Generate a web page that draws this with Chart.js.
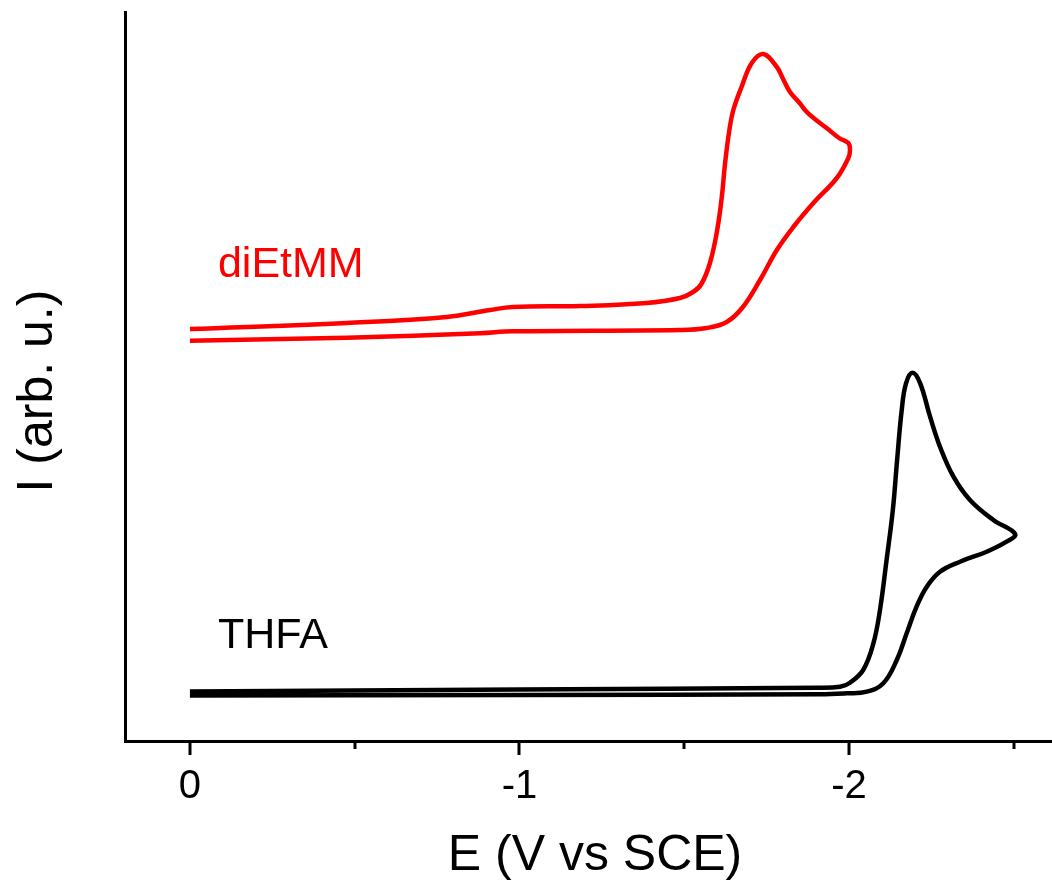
<!DOCTYPE html>
<html>
<head>
<meta charset="utf-8">
<script src="https://cdn.jsdelivr.net/npm/chart.js@4"></script>
<style>
  html, body { margin: 0; padding: 0; background: #fff; }
  canvas { display: block; }
</style>
</head>
<body>
<canvas id="cv" width="1052" height="889"></canvas>
<script>
// === Dados ===
// diEtMM: varredura de 0 até -2.0 V e volta
const redE = [0, -0.476, -0.78, -0.911, -0.98, -1.184, -1.386, -1.487, -1.527, -1.552, -1.578, -1.6, -1.614, -1.624, -1.637, -1.649, -1.674, -1.705, -1.74, -1.781, -1.80, -1.821, -1.85, -1.872, -1.90, -1.932, -1.97, -1.998, -2.003,
  -1.998, -1.963, -1.892, -1.831, -1.781, -1.73, -1.678, -1.629, -1.568, -1.487, -0.98, -0.88, -0.476, 0];
const redI = [412, 418, 424, 431, 434, 435, 438, 443, 449, 457, 478, 511, 544, 578, 611, 631, 654, 678, 687, 674, 662, 649, 638, 629, 621, 613, 603, 598, 591,
  583, 563, 538, 514, 491, 461, 434, 419, 413, 411, 409.7, 407.7, 403.3, 400.3];

// THFA: varredura de 0 até -2.5 V e volta
const blackE = [0, -1.0, -1.9, -1.973, -2.003, -2.043, -2.074, -2.094, -2.114, -2.133, -2.146, -2.16, -2.173, -2.193, -2.216, -2.246, -2.276, -2.317, -2.367, -2.438, -2.504,
  -2.478, -2.418, -2.337, -2.276, -2.236, -2.205, -2.175, -2.145, -2.104, -2.054, -1.993, -1.912, -1.0, 0];
const blackI = [49.5, 51.5, 53.3, 54.3, 58.3, 71, 97.7, 131, 181, 231, 281, 331, 357.7, 368.3, 357.7, 324.3, 294.3, 264.3, 241, 221, 207,
  199.3, 189.3, 179.3, 169.3, 154.3, 134.3, 107.7, 81, 57.7, 49.3, 47.7, 46.7, 46, 45.5];

const tickValues = [0, -0.5, -1, -1.5, -2, -2.5];
const majorTicks = [0, -1, -2];
const curveLabels = ["diEtMM", "THFA"];

const FONT = "'Liberation Sans', Arial, sans-serif";

function pontos(xs, ys) {
  return xs.map((x, i) => ({ x: x, y: ys[i] }));
}

// === Plugin: ticks, títulos dos eixos e rótulos das curvas ===
const extras = {
  id: "extras",
  afterDraw(chart) {
    const ctx = chart.ctx;
    const xs = chart.scales.x;
    const ys = chart.scales.y;
    const base = chart.chartArea.bottom;

    ctx.save();
    ctx.strokeStyle = "#000";
    ctx.lineWidth = 3;
    tickValues.forEach(v => {
      const px = Math.round(xs.getPixelForValue(v));
      const len = majorTicks.includes(v) ? 14 : 8;
      ctx.beginPath();
      ctx.moveTo(px, base);
      ctx.lineTo(px, base + len);
      ctx.stroke();
    });

    // título do eixo X
    ctx.fillStyle = "#000";
    ctx.font = "50px " + FONT;
    ctx.textAlign = "center";
    ctx.textBaseline = "middle";
    ctx.fillText("E (V vs SCE)", 595, 856);

    // título do eixo Y
    ctx.translate(38, 391);
    ctx.rotate(-Math.PI / 2);
    ctx.fillText("I (arb. u.)", 0, 0);
    ctx.restore();

    // rótulos das curvas
    ctx.save();
    ctx.font = "43px " + FONT;
    ctx.textAlign = "left";
    ctx.textBaseline = "middle";
    ctx.fillStyle = "#ff0000";
    ctx.fillText(curveLabels[0], xs.getPixelForValue(-0.085), ys.getPixelForValue(476));
    ctx.fillStyle = "#000";
    ctx.fillText(curveLabels[1], xs.getPixelForValue(-0.085), ys.getPixelForValue(105));
    ctx.restore();
  }
};

new Chart(document.getElementById("cv").getContext("2d"), {
  type: "scatter",
  data: {
    datasets: [
      {
        label: curveLabels[0],
        data: pontos(redE, redI),
        showLine: true,
        borderColor: "#ff0000",
        borderWidth: 4.5,
        pointRadius: 0,
        tension: 0.4
      },
      {
        label: curveLabels[1],
        data: pontos(blackE, blackI),
        showLine: true,
        borderColor: "#000",
        borderWidth: 4.5,
        pointRadius: 0,
        tension: 0.4
      }
    ]
  },
  options: {
    responsive: false,
    devicePixelRatio: 1,
    animation: false,
    layout: { padding: { top: 12, right: 0, left: 0, bottom: 0 } },
    plugins: {
      legend: { display: false },
      tooltip: { enabled: false }
    },
    scales: {
      x: {
        type: "linear",
        reverse: true,
        min: -2.616,
        max: 0.197,
        afterBuildTicks(scale) {
          scale.ticks = tickValues.map(v => ({ value: v }));
        },
        afterFit(scale) { scale.height = 148; },
        grid: { display: false, drawTicks: false },
        border: { display: true, color: "#000", width: 3 },
        ticks: {
          padding: 22,
          color: "#000",
          font: { family: FONT, size: 40 },
          maxRotation: 0,
          autoSkip: false,
          callback: v => majorTicks.includes(v) ? String(v) : ""
        }
      },
      y: {
        min: 0,
        max: 729,
        afterFit(scale) { scale.width = 125; },
        grid: { display: false, drawTicks: false },
        border: { display: true, color: "#000", width: 3 },
        ticks: { display: false }
      }
    }
  },
  plugins: [extras]
});
</script>
</body>
</html>
